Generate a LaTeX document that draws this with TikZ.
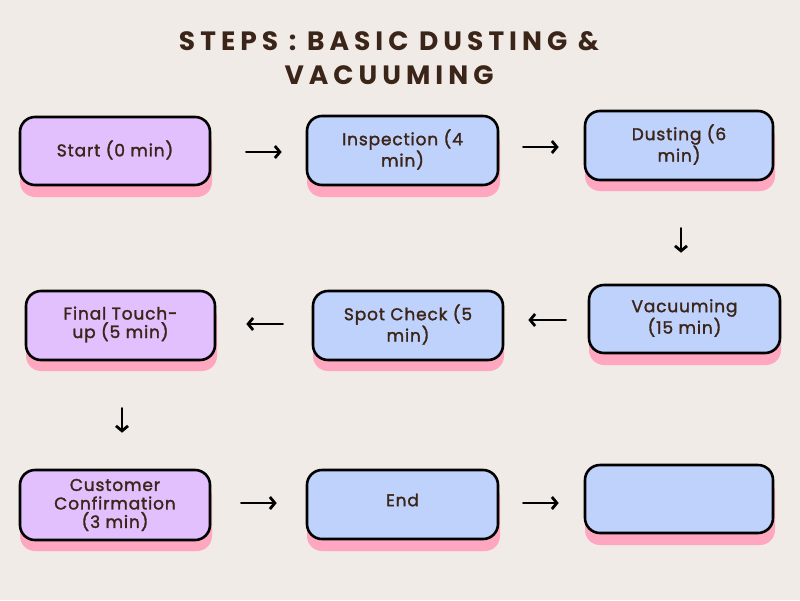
\documentclass[tikz,border=0pt]{standalone}
\usepackage{fontspec}
\setmainfont{Poppins}
\newfontfamily\titlefont[LetterSpace=19]{Poppins}
\newfontfamily\boxfont[LetterSpace=5,FakeBold=1.6]{Poppins}
\usetikzlibrary{arrows.meta}
\definecolor{bgc}{HTML}{F0EBE6}
\definecolor{purp}{HTML}{E2BFFD}
\definecolor{blu}{HTML}{BFD2FC}
\definecolor{pnk}{HTML}{FFA6C0}
\definecolor{txt}{HTML}{3B2418}
\tikzset{
  box/.style={draw=black, line width=2.6pt, rounded corners=15pt, minimum height=68pt, inner sep=0pt},
  pbox/.style={box, fill=purp},
  bbox/.style={box, fill=blu},
  shad/.style={fill=pnk, rounded corners=15pt},
  arr/.style={line width=2.8pt, line cap=round, -{Straight Barb[length=5pt,width=12pt,line width=2.8pt]}},
  lbl/.style={text=txt, font=\boxfont\fontsize{17}{18.5}\selectfont, align=center, inner sep=0pt}
}
\begin{document}
\begin{tikzpicture}[x=1pt,y=-1pt]
\fill[bgc] (0,0) rectangle (800,600);
\useasboundingbox (0,0) rectangle (800,600);
% title
\node[text=txt, font=\titlefont\bfseries\fontsize{26.5}{34}\selectfont, align=center] (title) at (389,58) {STEPS : BASIC DUSTING \&\\VACUUMING};
% shadows
\fill[shad] (20,128) rectangle (212,197);
\fill[shad] (307,128) rectangle (500,197);
\fill[shad] (585,122) rectangle (775,191);
\fill[shad] (589,296) rectangle (781,365);
\fill[shad] (313,302) rectangle (504,371);
\fill[shad] (26,302) rectangle (217,371);
\fill[shad] (20,482) rectangle (212,551);
\fill[shad] (307,482) rectangle (500,551);
\fill[shad] (585,477) rectangle (775,545);
% boxes
\node[pbox, minimum width=190pt, minimum height=68pt] (s1) at (115,151) {};
\node[lbl] at ([yshift=1pt]s1.center) {Start (0 min)};
\node[bbox, minimum width=191pt, minimum height=69pt] (s2) at (402.5,150.5) {};
\node[lbl] at ([yshift=1pt]s2.center) {Inspection (4\\min)};
\node[bbox, minimum width=188pt, minimum height=69pt] (s3) at (679,145.5) {};
\node[lbl] at ([yshift=1pt]s3.center) {Dusting (6\\min)};
\node[bbox, minimum width=191pt, minimum height=68pt] (s4) at (684.5,319) {};
\node[lbl] at ([yshift=1pt]s4.center) {Vacuuming\\(15 min)};
\node[bbox, minimum width=190pt, minimum height=69pt] (s5) at (408,325.5) {};
\node[lbl] at ([yshift=1pt]s5.center) {Spot Check (5\\min)};
\node[pbox, minimum width=189pt, minimum height=69pt] (s6) at (120.5,325.5) {};
\node[lbl] at ([yshift=1pt]s6.center) {Final Touch-\\up (5 min)};
\node[pbox, minimum width=190pt, minimum height=70pt] (s7) at (115,505) {};
\node[lbl] at (s7.center) {Customer\\Confirmation\\(3 min)};
\node[bbox, minimum width=191pt, minimum height=69pt] (s8) at (402.5,504.5) {};
\node[lbl] at ([yshift=4.5pt]s8.center) {End};
\node[bbox, minimum width=188pt, minimum height=68pt] (s9) at (679,499) {};
% arrows
\draw[arr, shorten <=35pt, shorten >=24pt] ([yshift=-1pt]s1.east) -- ([yshift=-1pt]s1.east -| s2.west);
\draw[arr, shorten <=24pt, shorten >=25pt] ([yshift=3.5pt]s2.east) -- ([yshift=3.5pt]s2.east -| s3.west);
\draw[arr, shorten <=47pt, shorten >=31pt] ([xshift=2pt]s3.south) -- ([xshift=2pt]s3.south |- s4.north);
\draw[arr, shorten <=22pt, shorten >=24pt] ([yshift=-1pt]s4.west) -- ([yshift=-1pt]s4.west -| s5.east);
\draw[arr, shorten <=29pt, shorten >=30pt] ([yshift=1.5pt]s5.west) -- ([yshift=1.5pt]s5.west -| s6.east);
\draw[arr, shorten <=47pt, shorten >=36pt] ([xshift=1.5pt]s6.south) -- ([xshift=1.5pt]s6.south |- s7.north);
\draw[arr, shorten <=30pt, shorten >=29pt] ([yshift=2pt]s7.east) -- ([yshift=2pt]s7.east -| s8.west);
\draw[arr, shorten <=24pt, shorten >=25pt] ([yshift=1.5pt]s8.east) -- ([yshift=1.5pt]s8.east -| s9.west);
\end{tikzpicture}
\end{document}
